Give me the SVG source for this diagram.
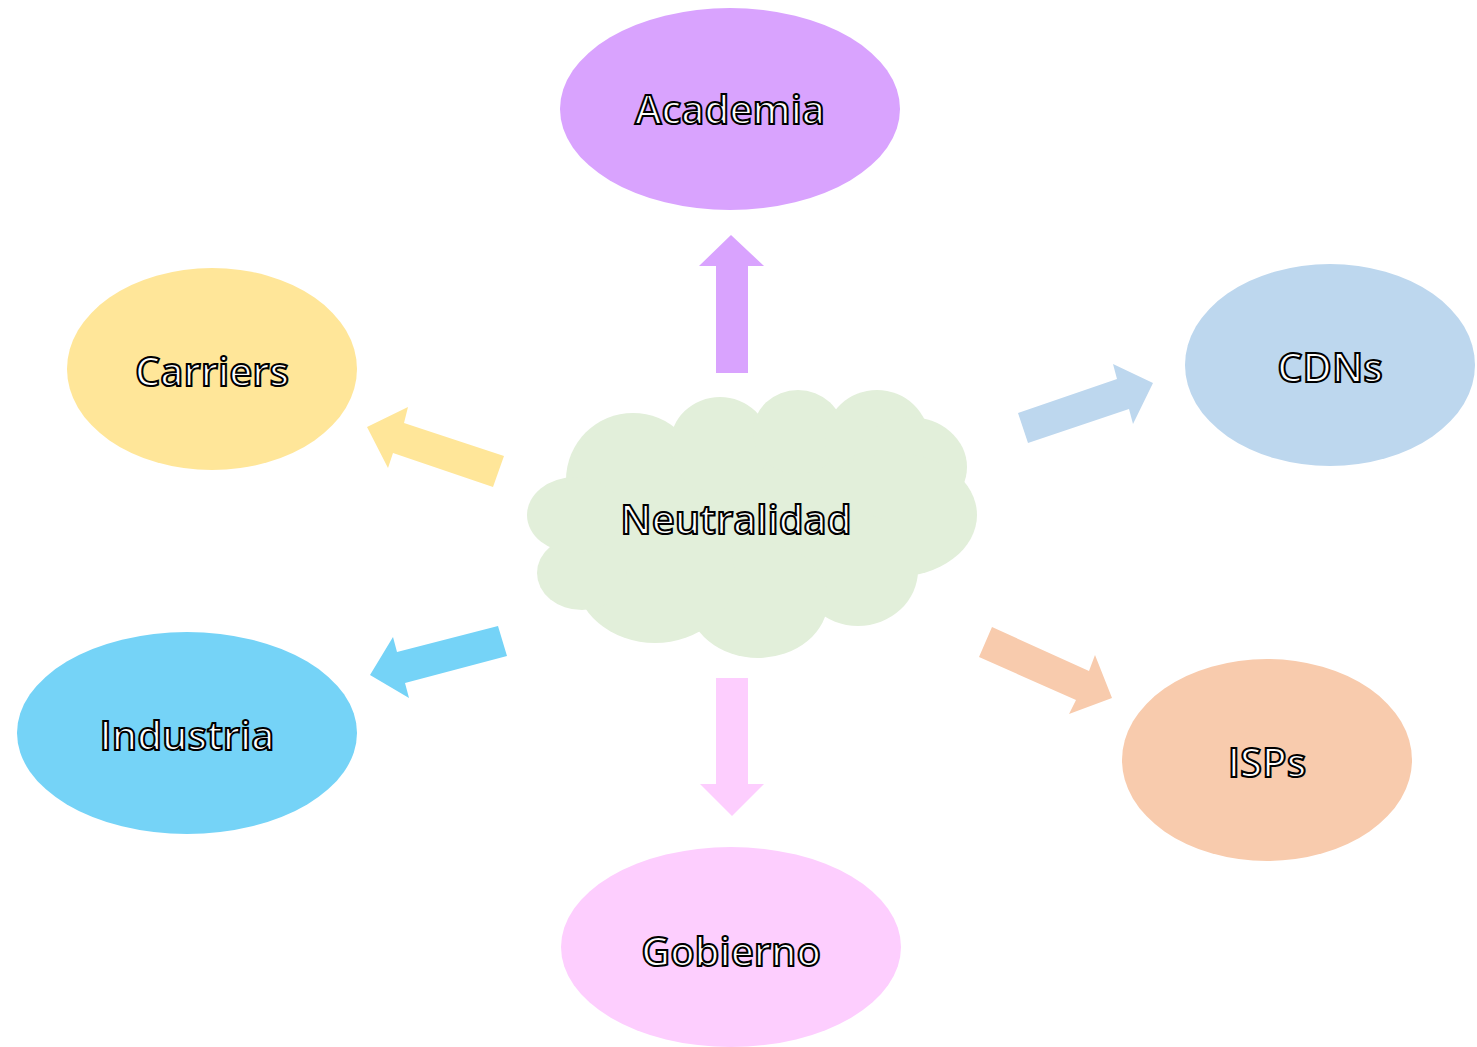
<svg xmlns="http://www.w3.org/2000/svg" width="1477" height="1047" viewBox="0 0 1477 1047">
<style>
.lbl{font-family:"Open Sans","Noto Sans",sans-serif;font-size:40px;font-weight:600;fill:#fff;stroke:#000;stroke-width:2;text-anchor:middle}
.cloud{fill:#E2EFDA}
</style>
<rect width="1477" height="1047" fill="#fff"/>
<g id="connectors">
<polygon fill="#D9A3FE" points="731,235 764,266 748,266 748,373 716,373 716,266 699,266"/>
<polygon fill="#FDCEFE" points="716,678 748,678 748,784 764,784 732,816 700,784 716,784"/>
<polygon fill="#FFE699" points="367,427 408,407 404,423 504,456 493,487 393,453 388,468"/>
<polygon fill="#BDD7EE" points="1028,443 1018,413 1117,379 1113,364 1153,383 1133,424 1129,409"/>
<polygon fill="#75D3F7" points="498,626 507,656 405,683 409,698 370,675 393,637 397,652"/>
<polygon fill="#F8CBAD" points="992,627 979,657 1076,700 1069,714 1112,698 1095,655 1089,671"/>
</g>
<g id="academia">
<ellipse cx="730" cy="109" rx="170" ry="101" fill="#D9A3FE"/>
<text class="lbl" x="730" y="124">Academia</text>
</g>
<g id="carriers">
<ellipse cx="212" cy="369" rx="145" ry="101" fill="#FFE699"/>
<text class="lbl" x="212" y="386">Carriers</text>
</g>
<g id="cdns">
<ellipse cx="1330" cy="365" rx="145" ry="101" fill="#BDD7EE"/>
<text class="lbl" x="1330" y="382">CDNs</text>
</g>
<g id="industria">
<ellipse cx="187" cy="733" rx="170" ry="101" fill="#75D3F7"/>
<text class="lbl" x="187" y="750">Industria</text>
</g>
<g id="isps">
<ellipse cx="1267" cy="760" rx="145" ry="101" fill="#F8CBAD"/>
<text class="lbl" x="1267" y="777">ISPs</text>
</g>
<g id="gobierno">
<ellipse cx="731" cy="947" rx="170" ry="100" fill="#FDCEFE"/>
<text class="lbl" x="731" y="966">Gobierno</text>
</g>
<g id="neutralidad">
<g class="cloud">
<ellipse cx="750" cy="520" rx="190" ry="100"/>
<circle cx="633" cy="480" r="67"/>
<ellipse cx="720" cy="445" rx="50" ry="48"/>
<ellipse cx="798" cy="432" rx="45" ry="42"/>
<ellipse cx="877" cy="440" rx="52" ry="50"/>
<ellipse cx="910" cy="467" rx="57" ry="50"/>
<ellipse cx="895" cy="515" rx="82" ry="62"/>
<ellipse cx="858" cy="570" rx="60" ry="56"/>
<ellipse cx="758" cy="600" rx="70" ry="58"/>
<ellipse cx="655" cy="575" rx="80" ry="68"/>
<ellipse cx="582" cy="573" rx="45" ry="37"/>
<ellipse cx="575" cy="515" rx="48" ry="38"/>
</g>
<text class="lbl" x="736" y="534">Neutralidad</text>
</g>
</svg>
